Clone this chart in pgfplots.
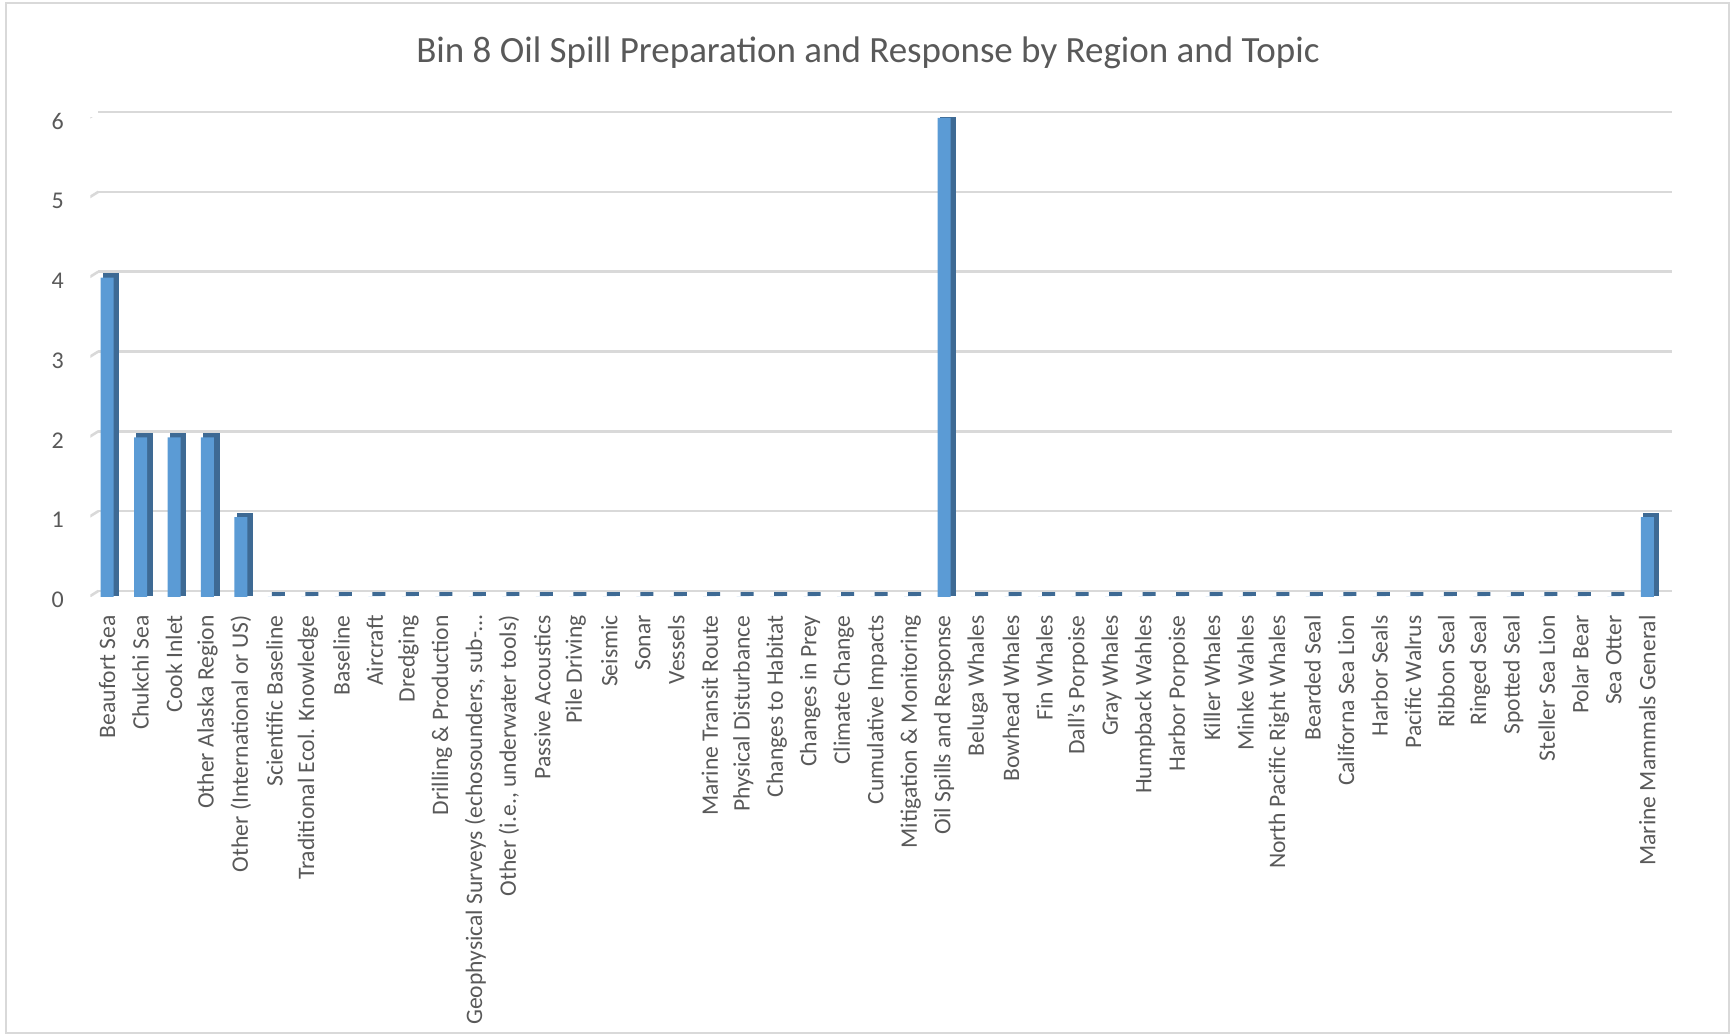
\documentclass[border=0pt]{standalone}
\usepackage{fontspec}
\setmainfont{Carlito}
\usepackage{pgfplots}
\usepackage{pgfplotstable}
\pgfplotsset{compat=1.18}
\definecolor{txt}{HTML}{595959}
\definecolor{gridc}{HTML}{D9D9D9}
\definecolor{barA}{HTML}{5B9BD5}
\definecolor{barB}{HTML}{3E6A94}
\pgfplotstableread{
x y
0 4
1 2
2 2
3 2
4 1
5 0
6 0
7 0
8 0
9 0
10 0
11 0
12 0
13 0
14 0
15 0
16 0
17 0
18 0
19 0
20 0
21 0
22 0
23 0
24 0
25 6
26 0
27 0
28 0
29 0
30 0
31 0
32 0
33 0
34 0
35 0
36 0
37 0
38 0
39 0
40 0
41 0
42 0
43 0
44 0
45 0
46 1
}\datatable
\begin{document}
\begin{tikzpicture}
\useasboundingbox (0,0) rectangle (866pt,518pt);
\draw[gridc, line width=0.8pt] (3pt,1.5pt) rectangle (864.5pt,516.5pt);
\node[font=\fontsize{18.5}{21}\selectfont, text=txt] at (434pt,491.8pt) {Bin 8 Oil Spill Preparation and Response by Region and Topic};
\begin{axis}[
  at={(45.15pt,219.5pt)}, anchor=south west,
  scale only axis, width=786.85pt, height=239.5pt,
  xmin=-0.5, xmax=46.5, ymin=0, ymax=6,
  axis line style={draw=none},
  tick style={draw=none},
  ymajorgrids=true,
  major grid style={draw=gridc, line width=1.3pt, transform canvas={xshift=4pt,yshift=3pt}},
  ytick={0,1,2,3,4,5,6},
  /pgf/number format/assume math mode=true,
  yticklabel style={font=\fontsize{12}{14}\selectfont, text=txt, inner sep=0pt, xshift=-13pt, yshift=-1.5pt},
  xtick={0,...,46},
  xticklabels={Beaufort Sea, Chukchi Sea, Cook Inlet, Other Alaska Region, Other (International or US), Scientific Baseline, Traditional Ecol. Knowledge, Baseline, Aircraft, Dredging, Drilling \& Production, {Geophysical Surveys (echosounders, sub-…}, {Other (i.e., underwater tools)}, Passive Acoustics, Pile Driving, Seismic, Sonar, Vessels, Marine Transit Route, Physical Disturbance, Changes to Habitat, Changes in Prey, Climate Change, Cumulative Impacts, Mitigation \& Monitoring, Oil Spills and Response, Beluga Whales, Bowhead Whales, Fin Whales, Dall's Porpoise, Gray Whales, Humpback Wahles, Harbor Porpoise, Killer Whales, Minke Wahles, North Pacific Right Whales, Bearded Seal, Californa Sea Lion, Harbor Seals, Pacific Walrus, Ribbon Seal, Ringed Seal, Spotted Seal, Steller Sea Lion, Polar Bear, Sea Otter, Marine Mammals General},
  xticklabel style={font=\fontsize{11.8}{14}\selectfont, text=txt, rotate=90, anchor=east, inner sep=0pt},
  xticklabel shift=9pt,
]
\addplot[ybar, bar shift=0pt, bar width=6.5pt, fill=barB, draw=barB, line width=1.6pt, transform canvas={xshift=2pt,yshift=1.5pt}] table[x=x,y=y]{\datatable};
\addplot[ybar, bar shift=0pt, bar width=6.5pt, fill=barA, draw=none] table[x=x,y=y]{\datatable};
\pgfplotsinvokeforeach{0,1,2,3,4,5,6}{
  \draw[gridc, line width=1.3pt] ([xshift=-3.2pt,yshift=-1.5pt]axis cs:-0.5,#1) -- ([xshift=4pt,yshift=3pt]axis cs:-0.5,#1);
}
\end{axis}
\end{tikzpicture}
\end{document}
